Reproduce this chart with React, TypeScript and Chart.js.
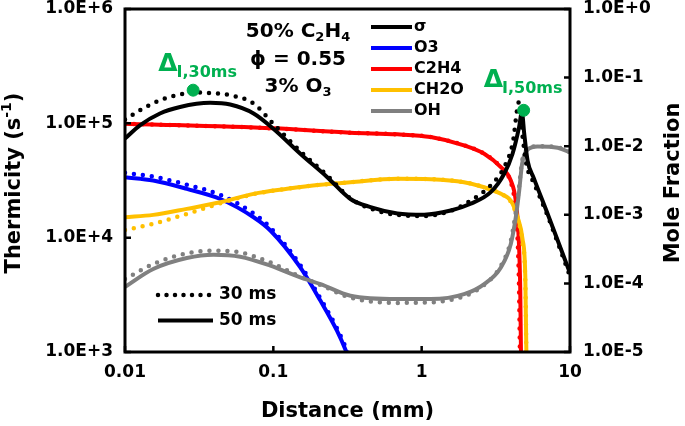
import React, { useEffect, useRef } from 'react';
import { Chart, registerables } from 'chart.js';

Chart.register(...registerables);

// ---------- data ----------
const xTickValues = [0.01, 0.1, 1, 10];
const xTickLabels = ['0.01', '0.1', '1', '10'];
const leftTickValues = [1e3, 1e4, 1e5, 1e6];
const leftTickLabels = ['1.0E+3', '1.0E+4', '1.0E+5', '1.0E+6'];
const rightTickValues = [1e-5, 1e-4, 1e-3, 1e-2, 1e-1, 1];
const rightTickLabels = ['1.0E-5', '1.0E-4', '1.0E-3', '1.0E-2', '1.0E-1', '1.0E+0'];

// thermicity sigma (left axis)
const sigma50X = [0.01, 0.0126, 0.0172, 0.0235, 0.0375, 0.0512, 0.0736, 0.1, 0.152, 0.231, 0.331, 0.452, 0.686, 1.04, 1.57, 2.14, 2.92, 3.6, 4.1, 4.54, 4.74, 4.91, 5.18, 5.71, 7.0, 10];
const sigma50Y = [7.35e4, 9.6e4, 1.22e5, 1.39e5, 1.51e5, 1.46e5, 1.22e5, 8.97e4, 5.42e4, 3.38e4, 2.18e4, 1.85e4, 1.63e4, 1.59e4, 1.73e4, 1.98e4, 2.5e4, 3.62e4, 5.42e4, 9.3e4, 1.26e5, 8.2e4, 4.7e4, 3.3e4, 1.67e4, 4.9e3];
const sigma30X = [0.01, 0.0126, 0.0172, 0.0235, 0.0288, 0.0375, 0.0512, 0.0736, 0.1, 0.152, 0.231, 0.331, 0.452, 0.686, 1.04, 1.57, 2.14, 2.92, 3.6, 4.1, 4.54, 4.8, 5.1, 5.71, 7.0, 10];
const sigma30Y = [1.08e5, 1.3e5, 1.59e5, 1.79e5, 1.86e5, 1.84e5, 1.76e5, 1.49e5, 9.9e4, 5.7e4, 3.5e4, 2.2e4, 1.8e4, 1.58e4, 1.55e4, 1.72e4, 2.11e4, 2.86e4, 4.14e4, 6.6e4, 1.54e5, 7.5e4, 4.3e4, 3.0e4, 1.6e4, 4.6e3];

// species mole fractions (right axis)
const o3X = [0.01, 0.0155, 0.0261, 0.0439, 0.0736, 0.0955, 0.152, 0.208, 0.269, 0.311, 0.34];
const o3Y50 = [3.53e-3, 3.16e-3, 2.39e-3, 1.7e-3, 9.2e-4, 5.9e-4, 1.71e-4, 5.57e-5, 2.03e-5, 1.0e-5, 6e-6];
const o3Y30 = [4.1e-3, 3.6e-3, 2.75e-3, 1.95e-3, 1.05e-3, 6.5e-4, 1.85e-4, 6.0e-5, 2.2e-5, 1.1e-5, 6.5e-6];

const c2h4X50 = [0.01, 0.1, 0.331, 0.686, 1.15, 1.93, 2.64, 3.42, 3.99, 4.31, 4.5, 4.62, 4.7];
const c2h4Y50 = [0.0213, 0.0182, 0.0157, 0.0149, 0.0136, 0.0103, 7.76e-3, 4.94e-3, 3.16e-3, 1.6e-3, 5e-4, 8e-5, 3e-6];
const c2h4X30 = [0.01, 0.1, 0.331, 0.686, 1.15, 1.93, 2.64, 3.42, 3.95, 4.25, 4.43, 4.54, 4.62];
const c2h4Y30 = [0.0213, 0.0182, 0.0157, 0.0149, 0.0136, 0.0103, 7.76e-3, 4.94e-3, 3.16e-3, 1.5e-3, 4.5e-4, 7e-5, 3e-6];

const ch2oX = [0.01, 0.0155, 0.0261, 0.0439, 0.0736, 0.124, 0.208, 0.331, 0.686, 1.15, 1.93, 2.64, 3.42, 3.99, 4.45, 4.78, 5.0, 5.08, 5.12];
const ch2oY50 = [9.2e-4, 9.98e-4, 1.22e-3, 1.52e-3, 2.02e-3, 2.39e-3, 2.74e-3, 2.99e-3, 3.35e-3, 3.3e-3, 2.99e-3, 2.52e-3, 2.02e-3, 1.6e-3, 9e-4, 4.5e-4, 1.2e-4, 1e-5, 1e-6];
const ch2oY30 = [6.0e-4, 7.4e-4, 1.03e-3, 1.47e-3, 2.0e-3, 2.39e-3, 2.74e-3, 2.99e-3, 3.35e-3, 3.3e-3, 2.99e-3, 2.52e-3, 2.02e-3, 1.55e-3, 8.5e-4, 4.0e-4, 1.0e-4, 8e-6, 1e-6];

const ohX = [0.01, 0.0155, 0.0261, 0.0395, 0.0598, 0.0955, 0.152, 0.208, 0.331, 0.686, 1.15, 1.93, 2.64, 3.42, 3.99, 4.31, 4.54, 4.75, 4.9, 5.18, 6.04, 8.26, 10];
const ohY50 = [8.9e-5, 1.62e-4, 2.34e-4, 2.62e-4, 2.45e-4, 1.81e-4, 1.22e-4, 9.77e-5, 6.6e-5, 5.9e-5, 5.9e-5, 6.97e-5, 9.77e-5, 1.71e-4, 3.76e-4, 9.2e-4, 2.2e-3, 5.5e-3, 7.3e-3, 8.9e-3, 9.9e-3, 9.5e-3, 8.1e-3];
const ohY30 = [1.16e-4, 1.91e-4, 2.74e-4, 3.0e-4, 2.83e-4, 2.02e-4, 1.25e-4, 9.5e-5, 6.2e-5, 5.2e-5, 5.3e-5, 6.5e-5, 9.5e-5, 1.8e-4, 4.2e-4, 1.1e-3, 2.6e-3, 6.0e-3, 7.6e-3, 9.0e-3, 1.0e-2, 9.6e-3, 8.2e-3];

// induction-zone markers (left axis)
const deltaX = [0.0288, 4.87];
const deltaY = [1.95e5, 1.3e5];
const deltaLabels = ['I,30ms', 'I,50ms'];

const legendNames = ['σ', 'O3', 'C2H4', 'CH2O', 'OH'];
const legendColors = ['#000000', '#0000FF', '#FF0000', '#FFC000', '#808080'];
const timeLabels = ['30 ms', '50 ms'];

// ---------- style ----------
const FONT = '"DejaVu Sans", "Liberation Sans", sans-serif';
const GREEN = '#00B050';

type Run = { t: string; sub?: boolean; sup?: boolean };

function runsWidth(ctx: CanvasRenderingContext2D, runs: Run[], size: number) {
  let w = 0;
  for (const r of runs) {
    const s = r.sub || r.sup ? Math.round(size * 0.65) : size;
    ctx.font = `bold ${s}px ${FONT}`;
    w += ctx.measureText(r.t).width;
  }
  return w;
}

function drawRuns(ctx: CanvasRenderingContext2D, runs: Run[], x: number, y: number, size: number, color: string, align: 'center' | 'left' = 'center') {
  const total = runsWidth(ctx, runs, size);
  let cx = align === 'center' ? x - total / 2 : x;
  ctx.fillStyle = color;
  ctx.textAlign = 'left';
  ctx.textBaseline = 'middle';
  for (const r of runs) {
    const s = r.sub || r.sup ? Math.round(size * 0.65) : size;
    ctx.font = `bold ${s}px ${FONT}`;
    const dy = r.sub ? size * 0.3 : r.sup ? -size * 0.35 : 0;
    ctx.fillText(r.t, cx, y + dy);
    cx += ctx.measureText(r.t).width;
  }
}

const pts = (xs: number[], ys: number[]) => xs.map((x, i) => ({ x, y: ys[i] }));

function solid(label: string, xs: number[], ys: number[], color: string, axis: string, order: number) {
  return {
    type: 'line' as const,
    label,
    data: pts(xs, ys),
    borderColor: color,
    backgroundColor: color,
    borderWidth: 4,
    pointRadius: 0,
    fill: false,
    cubicInterpolationMode: 'monotone' as const,
    yAxisID: axis,
    order,
  };
}

function dotted(label: string, xs: number[], ys: number[], color: string, axis: string, order: number) {
  return {
    ...solid(label, xs, ys, color, axis, order),
    borderWidth: 4.5,
    borderDash: [0, 9],
    borderCapStyle: 'round' as const,
  };
}

const overlayPlugin = {
  id: 'overlay',
  afterDraw(chart: any) {
    const { ctx, chartArea: ca, scales } = chart;
    ctx.save();
    // frame
    ctx.strokeStyle = '#000';
    ctx.lineWidth = 3;
    ctx.strokeRect(ca.left, ca.top, ca.right - ca.left, ca.bottom - ca.top);
    // inward tick marks
    ctx.lineWidth = 2.5;
    ctx.beginPath();
    for (const v of leftTickValues) {
      const y = scales.y.getPixelForValue(v);
      ctx.moveTo(ca.left, y);
      ctx.lineTo(ca.left + 6, y);
    }
    for (const v of rightTickValues) {
      const y = scales.y1.getPixelForValue(v);
      ctx.moveTo(ca.right, y);
      ctx.lineTo(ca.right - 6, y);
    }
    for (const v of xTickValues) {
      const x = scales.x.getPixelForValue(v);
      ctx.moveTo(x, ca.bottom);
      ctx.lineTo(x, ca.bottom - 6);
    }
    ctx.stroke();

    // species legend
    ctx.lineCap = 'butt';
    legendNames.forEach((name, i) => {
      const y = 27 + i * 21;
      ctx.strokeStyle = legendColors[i];
      ctx.lineWidth = 4;
      ctx.setLineDash([]);
      ctx.beginPath();
      ctx.moveTo(371, y);
      ctx.lineTo(412, y);
      ctx.stroke();
      drawRuns(ctx, [{ t: name }], 414, y, 16, '#000', 'left');
    });

    // time legend
    timeLabels.forEach((name, i) => {
      const y = 295 + i * 25.5;
      ctx.strokeStyle = '#000';
      if (i === 0) {
        ctx.lineWidth = 4.5;
        ctx.lineCap = 'round';
        ctx.setLineDash([0, 8.5]);
      } else {
        ctx.lineWidth = 4;
        ctx.lineCap = 'butt';
        ctx.setLineDash([]);
      }
      ctx.beginPath();
      ctx.moveTo(158, y);
      ctx.lineTo(213, y);
      ctx.stroke();
      ctx.setLineDash([]);
      drawRuns(ctx, [{ t: name }], 219, y, 17, '#000', 'left');
    });

    // condition text
    drawRuns(ctx, [{ t: '50% C' }, { t: '2', sub: true }, { t: 'H' }, { t: '4', sub: true }], 298, 32, 20, '#000');
    drawRuns(ctx, [{ t: 'ϕ = 0.55' }], 298, 60, 20, '#000');
    drawRuns(ctx, [{ t: '3% O' }, { t: '3', sub: true }], 298, 87, 20, '#000');

    // delta labels
    const offs = [
      { dx: -35, dy: -26 },
      { dx: -40, dy: -30 },
    ];
    deltaX.forEach((xv, i) => {
      const px = scales.x.getPixelForValue(xv);
      const py = scales.y.getPixelForValue(deltaY[i]);
      const lx = px + offs[i].dx;
      const ly = py + offs[i].dy;
      ctx.fillStyle = GREEN;
      ctx.textAlign = 'left';
      ctx.textBaseline = 'middle';
      ctx.font = `bold 25px ${FONT}`;
      ctx.fillText('Δ', lx, ly);
      const w = ctx.measureText('Δ').width;
      ctx.font = `bold 16px ${FONT}`;
      ctx.fillText(deltaLabels[i], lx + w - 1, ly + 9);
    });

    // axis titles
    drawRuns(ctx, [{ t: 'Distance (mm)' }], (ca.left + ca.right) / 2, 412, 21, '#000');
    ctx.save();
    ctx.translate(15, 183);
    ctx.rotate(-Math.PI / 2);
    drawRuns(ctx, [{ t: 'Thermicity (s' }, { t: '-1', sup: true }, { t: ')' }], 0, 0, 21, '#000');
    ctx.restore();
    ctx.save();
    ctx.translate(674, 183);
    ctx.rotate(-Math.PI / 2);
    drawRuns(ctx, [{ t: 'Mole Fraction' }], 0, 0, 21, '#000');
    ctx.restore();

    ctx.restore();
  },
};

function tickCb(values: number[], labels: string[]) {
  return (v: any) => {
    const n = Number(v);
    const i = values.findIndex((t) => Math.abs(t - n) / t < 1e-6);
    return i >= 0 ? labels[i] : '';
  };
}

function noPad(s: any) {
  s.paddingTop = 0;
  s.paddingBottom = 0;
  s.paddingLeft = 0;
  s.paddingRight = 0;
}

export default function App() {
  const ref = useRef<HTMLCanvasElement>(null);
  useEffect(() => {
    const canvas = ref.current;
    if (!canvas) return;
    const tickFont = { family: FONT, size: 17, weight: 'bold' as const };
    const chart = new Chart(canvas, {
      type: 'line',
      data: {
        datasets: [
          {
            type: 'scatter' as const,
            label: 'Delta',
            data: pts(deltaX, deltaY),
            backgroundColor: GREEN,
            borderColor: GREEN,
            pointRadius: 6,
            showLine: false,
            yAxisID: 'y',
            order: 0,
          } as any,
          solid('σ 50 ms', sigma50X, sigma50Y, '#000000', 'y', 1),
          dotted('σ 30 ms', sigma30X, sigma30Y, '#000000', 'y', 2),
          solid('OH 50 ms', ohX, ohY50, '#808080', 'y1', 3),
          dotted('OH 30 ms', ohX, ohY30, '#808080', 'y1', 4),
          solid('CH2O 50 ms', ch2oX, ch2oY50, '#FFC000', 'y1', 5),
          dotted('CH2O 30 ms', ch2oX, ch2oY30, '#FFC000', 'y1', 6),
          solid('C2H4 50 ms', c2h4X50, c2h4Y50, '#FF0000', 'y1', 7),
          dotted('C2H4 30 ms', c2h4X30, c2h4Y30, '#FF0000', 'y1', 8),
          solid('O3 50 ms', o3X, o3Y50, '#0000FF', 'y1', 9),
          dotted('O3 30 ms', o3X, o3Y30, '#0000FF', 'y1', 10),
        ] as any,
      },
      options: {
        responsive: false,
        animation: false,
        devicePixelRatio: 1,
        layout: { padding: { top: 9, left: 0, right: 0, bottom: 0 } },
        plugins: { legend: { display: false }, tooltip: { enabled: false } },
        scales: {
          x: {
            type: 'logarithmic',
            min: 0.01,
            max: 10,
            position: 'bottom',
            afterBuildTicks: (s: any) => {
              s.ticks = xTickValues.map((value) => ({ value }));
            },
            afterFit: (s: any) => {
              s.height = 74;
              noPad(s);
            },
            grid: { display: false, drawTicks: false },
            border: { display: false },
            ticks: {
              callback: tickCb(xTickValues, xTickLabels),
              font: tickFont,
              color: '#000',
              padding: 10,
              autoSkip: false,
              maxRotation: 0,
            },
          },
          y: {
            type: 'logarithmic',
            min: 1e3,
            max: 1e6,
            position: 'left',
            afterBuildTicks: (s: any) => {
              s.ticks = leftTickValues.map((value) => ({ value }));
            },
            afterFit: (s: any) => {
              s.width = 125;
              noPad(s);
            },
            grid: { display: false, drawTicks: false },
            border: { display: false },
            ticks: {
              callback: tickCb(leftTickValues, leftTickLabels),
              font: tickFont,
              color: '#000',
              padding: 12,
              autoSkip: false,
            },
          },
          y1: {
            type: 'logarithmic',
            min: 1e-5,
            max: 1,
            position: 'right',
            afterBuildTicks: (s: any) => {
              s.ticks = rightTickValues.map((value) => ({ value }));
            },
            afterFit: (s: any) => {
              s.width = 115;
              noPad(s);
            },
            grid: { display: false, drawTicks: false },
            border: { display: false },
            ticks: {
              callback: tickCb(rightTickValues, rightTickLabels),
              font: tickFont,
              color: '#000',
              padding: 13,
              autoSkip: false,
            },
          },
        },
      } as any,
      plugins: [overlayPlugin],
    });
    return () => chart.destroy();
  }, []);
  return (
    <div style={{ position: 'fixed', left: 0, top: 0, width: 685, height: 426, background: '#fff' }}>
      <canvas ref={ref} width={685} height={426} style={{ width: 685, height: 426, display: 'block' }} />
    </div>
  );
}
